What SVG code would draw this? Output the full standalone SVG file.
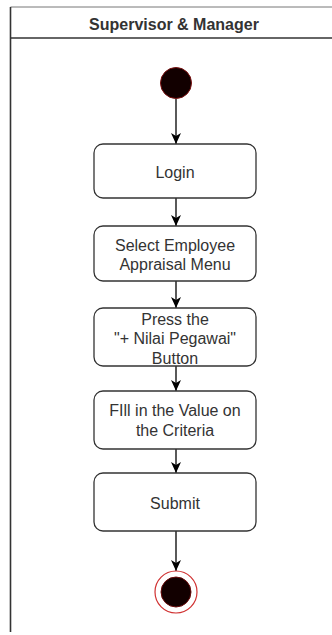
<svg xmlns="http://www.w3.org/2000/svg" width="332" height="635" viewBox="0 0 332 635">
<style>
.pool{fill:none;stroke:#333;stroke-width:1.5}
.act rect{fill:#fff;stroke:#333;stroke-width:1.3}
.act text,.lbl{font-family:"Liberation Sans",Arial,sans-serif;font-size:16px;fill:#333;text-anchor:middle}
.hdr{font-family:"Liberation Sans",Arial,sans-serif;font-size:16px;font-weight:bold;fill:#333;text-anchor:middle}
.edge{stroke:#000;stroke-width:1.3;fill:none;marker-end:url(#arr)}
</style>
<defs>
<marker id="arr" markerUnits="userSpaceOnUse" markerWidth="12" markerHeight="11" refX="11" refY="5" orient="auto">
<path d="M0,0 L11,5 L0,10 L3,5 Z" fill="#000"/>
</marker>
</defs>
<rect width="332" height="635" fill="#fff"/>
<g id="pool">
<line x1="10.5" y1="7" x2="332" y2="7" stroke="#777" stroke-width="1"/>
<line x1="10.5" y1="38" x2="332" y2="38" stroke="#333" stroke-width="1.6"/>
<line x1="10.5" y1="7" x2="10.5" y2="632" stroke="#333" stroke-width="1.6"/>
<text class="hdr" x="174" y="30">Supervisor &amp; Manager</text>
</g>
<g id="connectors">
<line class="edge" x1="176" y1="99" x2="176" y2="144"/>
<line class="edge" x1="176" y1="198" x2="176" y2="226"/>
<line class="edge" x1="176" y1="281" x2="176" y2="308"/>
<line class="edge" x1="176" y1="366" x2="176" y2="391"/>
<line class="edge" x1="176" y1="449" x2="176" y2="473"/>
<line class="edge" x1="176" y1="531" x2="176" y2="571"/>
</g>
<g id="start">
<circle cx="176" cy="83" r="15.5" fill="#120000" stroke="#7a1010" stroke-width="1"/>
</g>
<g id="login" class="act">
<rect x="94" y="144" width="162" height="54" rx="9"/>
<text x="175" y="177.5">Login</text>
</g>
<g id="select" class="act">
<rect x="94" y="226" width="162" height="55" rx="9"/>
<text x="175" y="250.5">Select Employee</text>
<text x="175" y="269.5">Appraisal Menu</text>
</g>
<g id="press" class="act">
<rect x="94" y="308" width="162" height="58" rx="9"/>
<text x="175" y="324.5">Press the</text>
<text x="175" y="344">"+ Nilai Pegawai"</text>
<text x="175" y="363.5">Button</text>
</g>
<g id="fill" class="act">
<rect x="94" y="391" width="162" height="58" rx="9"/>
<text x="175" y="416">FIll in the Value on</text>
<text x="175" y="435.5">the Criteria</text>
</g>
<g id="submit" class="act">
<rect x="94" y="473" width="162" height="58" rx="9"/>
<text x="175" y="508.5">Submit</text>
</g>
<g id="end">
<circle cx="176" cy="592" r="21" fill="#fff" stroke="#d03030" stroke-width="1.2"/>
<circle cx="176" cy="592" r="15" fill="#120000" stroke="#6a0a0a" stroke-width="1"/>
</g>
</svg>
